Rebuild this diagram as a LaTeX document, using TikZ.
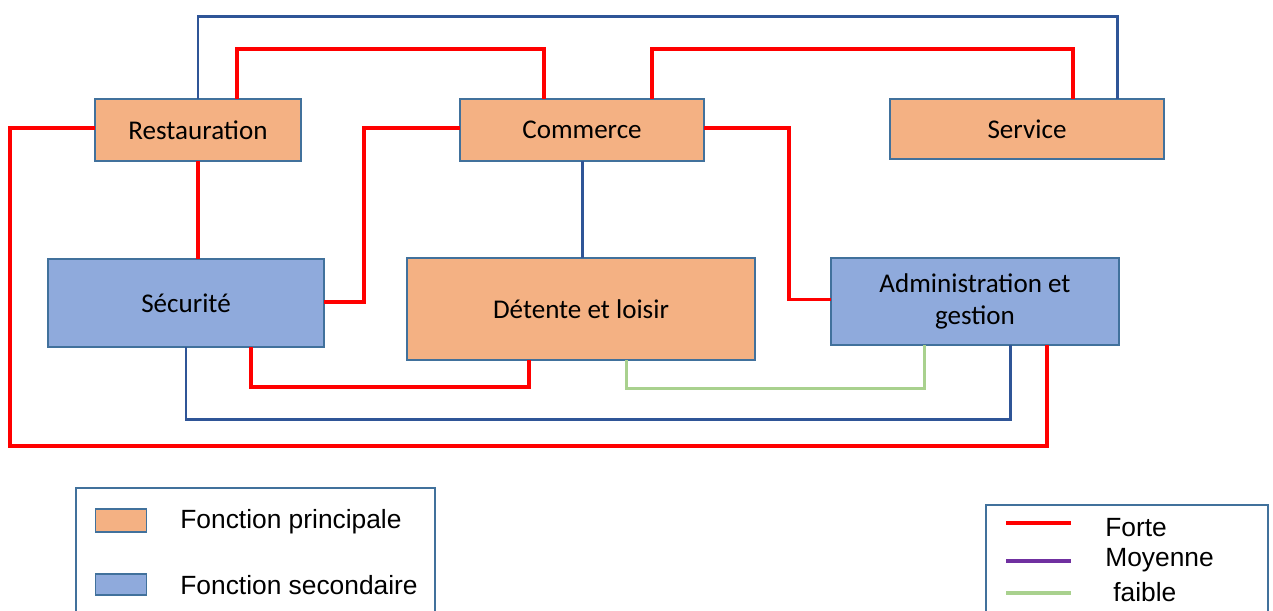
\documentclass[tikz,border=0pt]{standalone}
\usepackage{fontspec}
\setmainfont{Carlito}
\newfontfamily\legfont{Liberation Sans}
\usetikzlibrary{calc}
\definecolor{orfond}{HTML}{F4B183}
\definecolor{blfond}{HTML}{8FAADC}
\definecolor{bord}{HTML}{41719C}
\definecolor{rouge}{HTML}{FF0000}
\definecolor{bleu}{HTML}{2F5597}
\definecolor{vert}{HTML}{A9D18E}
\definecolor{violet}{HTML}{7030A0}
\tikzset{
  fprin/.style={draw=bord,line width=.9pt,fill=orfond,inner sep=0pt,outer sep=0pt,font=\fontsize{15.4}{18}\selectfont,align=center},
  fsec/.style={fprin,fill=blfond},
  lienrouge/.style={draw=rouge,line width=1.8pt},
  lienbleu/.style={draw=bleu,line width=1.7pt},
  lienvert/.style={draw=vert,line width=1.7pt},
  legtxt/.style={anchor=west,inner sep=0pt,font=\legfont\fontsize{15}{18}\selectfont}
}

\begin{document}
\begin{tikzpicture}[x=0.02cm,y=-0.02cm]
\useasboundingbox (0,0) rectangle (1273,610);
% boites
\node[fprin,minimum width=4.12cm,minimum height=1.24cm] (rest) at (198,130) {Restauration};
\node[fprin,minimum width=4.88cm,minimum height=1.24cm] (comm) at (582,130) {Commerce};
\node[fprin,minimum width=5.48cm,minimum height=1.2cm] (serv) at (1027,129) {Service};
\node[fsec,minimum width=5.52cm,minimum height=1.76cm] (secu) at (186,303) {Sécurité};
\node[fprin,minimum width=6.96cm,minimum height=2.04cm] (dete) at (581,309) {Détente et loisir};
\node[fsec,minimum width=5.76cm,minimum height=1.74cm] (admi) at (975,301.5) {Administration et\\gestion};
% liens
\draw[lienbleu] (rest.north) -- ++(0,-83) -| ($(serv.north)+(90,0)$);
\draw[lienrouge] ($(rest.north)+(39,0)$) -- ++(0,-50) -| ($(comm.north)+(-38,0)$);
\draw[lienrouge] ($(comm.north)+(70,0)$) -- ++(0,-50) -| ($(serv.north)+(46,0)$);
\draw[lienrouge] ($(rest.west)+(0,-2)$) -| (10,446) -| ($(admi.south)+(72,0)$);
\draw[lienrouge] (rest.south) -- (rest.south |- secu.north);
\draw[lienrouge] ($(comm.west)+(0,-2)$) -| ($(secu.east)+(40,-1)$) -- ($(secu.east)+(0,-1)$);
\draw[lienbleu] (comm.south) -- (comm.south |- dete.north);
\draw[lienrouge] ($(comm.east)+(0,-2)$) -| ($(admi.west)+(-42,-2)$) -- ($(admi.west)+(0,-2)$);
\draw[lienrouge] ($(secu.south)+(65,0)$) |- ($(dete.south)+(-52,27)$) -- ($(dete.south)+(-52,0)$);
\draw[lienvert] ($(dete.south)+(45,0)$) |- ($(admi.south)+(-51,43)$) -- ($(admi.south)+(-51,0)$);
\draw[lienbleu] (secu.south) |- ($(admi.south)+(35,74)$) -- ($(admi.south)+(35,0)$);
% legendes
\draw[bord,line width=.8pt] (76,615) |- (435,488) -- (435,615);
\node[fprin,minimum width=1.02cm,minimum height=0.46cm] (lgprin) at (121,520.5) {};
\node[fsec,minimum width=1.02cm,minimum height=0.42cm] (lgsec) at (121,584.5) {};
\node[legtxt] (tprin) at (180,522) {Fonction principale};
\node[legtxt] (tsec) at (180,585) {Fonction secondaire};
\draw[bord,line width=.8pt] (986,615) |- (1268,505) -- (1268,615);
\draw[rouge,line width=2.2pt] (1006,523) -- (1071,523);
\draw[violet,line width=2.2pt] (1006,561) -- (1071,561);
\draw[vert,line width=2.2pt] (1006,593) -- (1071,593);
\node[legtxt] (tforte) at (1105,528) {Forte};
\node[legtxt] (tmoy) at (1105,560) {Moyenne};
\node[legtxt] (tfaib) at (1113,592) {faible};
\end{tikzpicture}
\end{document}
